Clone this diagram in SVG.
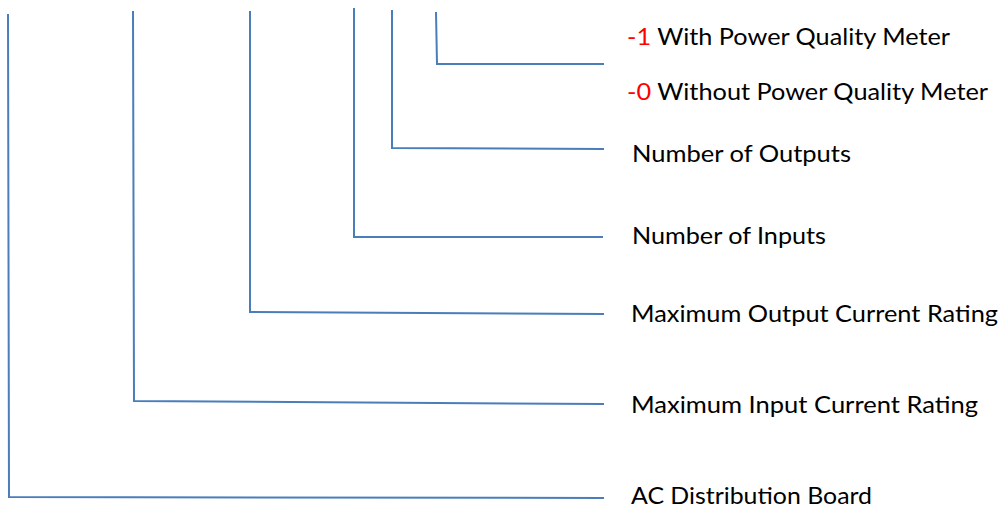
<svg xmlns="http://www.w3.org/2000/svg" width="1003" height="508" viewBox="0 0 1003 508">
<style>
.c{fill:none;stroke:#4a7ebb;stroke-width:2}
.t{font-family:Lato,"Open Sans","Liberation Sans",sans-serif;font-size:23px;fill:#000}
.r{fill:#ff0000}
</style>
<rect width="1003" height="508" fill="#fff"/>
<g id="connectors">
<polyline class="c" points="8,14 9,497 604,498"/>
<polyline class="c" points="133,11 134,401 604,404"/>
<polyline class="c" points="250,11 250,312 604,314"/>
<polyline class="c" points="354,8 354,237 603,237"/>
<polyline class="c" points="392,10 392,148 604,149"/>
<polyline class="c" points="436,12 437,64 604,64"/>
</g>
<g id="opt1"><text class="t" x="627" y="45" textLength="323" lengthAdjust="spacingAndGlyphs"><tspan class="r">-1</tspan> With Power Quality Meter</text></g>
<g id="opt0"><text class="t" x="627" y="100" textLength="361" lengthAdjust="spacingAndGlyphs"><tspan class="r">-0</tspan> Without Power Quality Meter</text></g>
<g id="outputs"><text class="t" x="632" y="162" textLength="219" lengthAdjust="spacingAndGlyphs">Number of Outputs</text></g>
<g id="inputs"><text class="t" x="632" y="244" textLength="194" lengthAdjust="spacingAndGlyphs">Number of Inputs</text></g>
<g id="maxout"><text class="t" x="631" y="322" textLength="367" lengthAdjust="spacingAndGlyphs">Maximum Output Current Rating</text></g>
<g id="maxin"><text class="t" x="631" y="413" textLength="347" lengthAdjust="spacingAndGlyphs">Maximum Input Current Rating</text></g>
<g id="acdb"><text class="t" x="631" y="504" textLength="241" lengthAdjust="spacingAndGlyphs">AC Distribution Board</text></g>
</svg>
